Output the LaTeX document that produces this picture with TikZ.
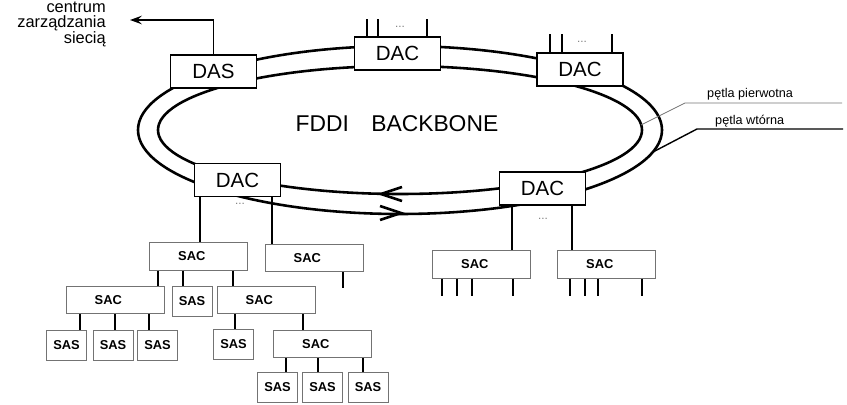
\documentclass[tikz,border=0pt]{standalone}
\usepackage{fontspec}
\setmainfont{Liberation Sans}
\usetikzlibrary{arrows.meta, positioning, calc}

\begin{document}
\begin{tikzpicture}[
  x=0.03cm, y=-0.03cm,
  ring/.style={line width=2.2pt},
  dual/.style={rectangle, draw, line width=1.3pt, fill=white, minimum width=2.57cm, minimum height=0.99cm, inner sep=0pt, font=\fontsize{17.5}{18}\selectfont},
  sac/.style={rectangle, draw=black!55, line width=0.7pt, fill=white, minimum width=2.94cm, minimum height=0.83cm, inner sep=0pt, font=\fontsize{11}{12}\selectfont\bfseries, execute at end node={\hspace*{0.4cm}}},
  sas/.style={rectangle, draw=black!55, line width=0.7pt, fill=white, minimum width=1.2cm, minimum height=0.9cm, inner sep=0pt, font=\fontsize{11}{12}\selectfont\bfseries},
  tick/.style={line width=1.2pt},
  link/.style={line width=0.9pt},
  dots/.style={font=\fontsize{10}{10}\selectfont, text=black!50, inner sep=0pt},
  >={Stealth[length=3.6mm, width=2.6mm, inset=1.4mm]},
]
  \useasboundingbox (0,0) rectangle (847,405);

  % ring
  \draw[ring] (400,130) ellipse [x radius=7.86cm, y radius=2.52cm];
  \draw[ring] (400,130) ellipse [x radius=7.26cm, y radius=1.92cm];
  \draw[ring] (402,187) -- (381,194) -- (402,201);
  \draw[ring] (380,206) -- (401,213) -- (380,220);

  \node[font=\fontsize{19.5}{20}\selectfont] (fddi) at (397,124) {FDDI\hspace{19pt}BACKBONE};

  % stations on the ring
  \node[dual] (das) at (213.5,71.5) {DAS};
  \node[dual] (dact) at (397.5,53.5) {DAC};
  \node[dual] (dacr) at (580,69.5) {DAC};
  \node[dual] (dacl) at (237.5,180) {DAC};
  \node[dual] (dacb) at (542.5,188.5) {DAC};

  \foreach \x in {367,378,427} \draw[tick] (\x,0 |- dact.north) -- ++(0,-17);
  \node[dots] (dtt) at (400,27) {...};
  \foreach \x in {550,562,612} \draw[tick] (\x,0 |- dacr.north) -- ++(0,-18);
  \node[dots] (dtr) at (582,42) {...};

  % management
  \node[anchor=north east, align=right, inner sep=0pt, font=\fontsize{14}{12.5}\selectfont] (centre) at (106,2) {centrum\\zarządzania\\siecią};
  \coordinate (nmc) at (130,20);
  \draw[->, line width=1.1pt] (das.north) |- (nmc);

  % loop labels
  \coordinate (pin) at (641,125);
  \coordinate (pk) at (685,103);
  \coordinate (pe) at (842,103);
  \coordinate (pout) at (653,152);
  \coordinate (wk) at (697,129);
  \coordinate (we) at (843,129);
  \draw[black!55, line width=0.6pt] (pin) -- (pk) -- (pe);
  \draw[line width=1.2pt] (pout) -- (wk) -- (we);
  \node[anchor=base west, inner sep=0pt, font=\fontsize{10.8}{11}\selectfont] (lprim) at (707,98) {pętla pierwotna};
  \node[anchor=base west, inner sep=0pt, font=\fontsize{10.8}{11}\selectfont] (lsec) at (715,125) {pętla wtórna};

  % left tree
  \node[sac] (sac1) at (198.5,256.5) {SAC};
  \node[sac] (sac2) at (314,258) {SAC};
  \node[sac] (sac3) at (115,300) {SAC};
  \node[sas] (sas1) at (192,301.5) {SAS};
  \node[sac] (sac4) at (266,300) {SAC};
  \node[sas] (sas2) at (66.5,345) {SAS};
  \node[sas] (sas3) at (113,345) {SAS};
  \node[sas] (sas4) at (157.5,345) {SAS};
  \node[sas] (sas5) at (233.5,344) {SAS};
  \node[sac] (sac5) at (322.5,344) {SAC};
  \node[sas] (sas6) at (277.5,387.5) {SAS};
  \node[sas] (sas7) at (322.5,387.5) {SAS};
  \node[sas] (sas8) at (368,387.5) {SAS};

  \draw[link] (200,0 |- dacl.south) -- (200,0 |- sac1.north);
  \draw[link] (272,0 |- dacl.south) -- (272,0 |- sac2.north);
  \node[dots] (dtl) at (240,204) {...};
  \foreach \x/\c in {158/sac3, 183/sas1, 233/sac4}
    \draw[tick] (\x,0 |- sac1.south) -- (\x,0 |- \c.north);
  \draw[tick] (343,0 |- sac2.south) -- ++(0,16);
  \foreach \x/\c in {80/sas2, 115/sas3, 149/sas4}
    \draw[tick] (\x,0 |- sac3.south) -- (\x,0 |- \c.north);
  \foreach \x/\c in {235/sas5, 303/sac5}
    \draw[tick] (\x,0 |- sac4.south) -- (\x,0 |- \c.north);
  \foreach \x/\c in {286/sas6, 318/sas7, 363/sas8}
    \draw[tick] (\x,0 |- sac5.south) -- (\x,0 |- \c.north);

  % right tree
  \node[sac] (sac6) at (481.5,264.5) {SAC};
  \node[sac] (sac7) at (606.5,264.5) {SAC};
  \draw[link] (512,0 |- dacb.south) -- (512,0 |- sac6.north);
  \draw[link] (572,0 |- dacb.south) -- (572,0 |- sac7.north);
  \node[dots] (dtb) at (543,219) {...};
  \foreach \x in {442,457,472,513} \draw[tick] (\x,0 |- sac6.south) -- ++(0,17);
  \foreach \x in {570,585,598,642} \draw[tick] (\x,0 |- sac7.south) -- ++(0,17);
\end{tikzpicture}
\end{document}
